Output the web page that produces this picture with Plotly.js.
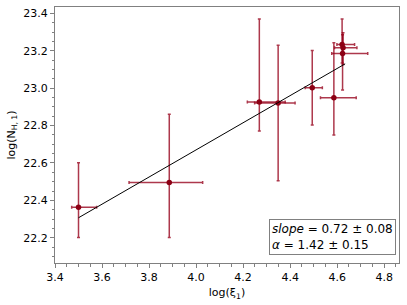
<!DOCTYPE html>
<html><head><meta charset="utf-8">
<script src="https://cdn.plot.ly/plotly-3.0.1.min.js"></script>
<style>html,body{margin:0;padding:0;background:#fff}#c{width:407px;height:305px}</style>
</head><body><div id="c"></div>
<script>
const logXi = [3.50, 3.886, 4.269, 4.349, 4.494, 4.586, 4.621, 4.625, 4.623];
const logNH = [22.363, 22.496, 22.926, 22.920, 23.002, 22.949, 23.234, 23.216, 23.186];
const xErrPlus  = [0.077, 0.142, 0.110, 0.072, 0.043, 0.095, 0.053, 0.059, 0.107];
const xErrMinus = [0.029, 0.171, 0.051, 0.100, 0.030, 0.057, 0.022, 0.036, 0.046];
const yErrPlus  = [0.238, 0.365, 0.444, 0.310, 0.200, 0.294, 0.136, 0.080, 0.100];
const yErrMinus = [0.161, 0.294, 0.155, 0.415, 0.199, 0.200, 0.100, 0.090, 0.196];
const fitX = [3.50, 4.634];
const fitY = [22.307, 23.130];
const xTicks = [3.4, 3.6, 3.8, 4.0, 4.2, 4.4, 4.6, 4.8];
const yTicks = [22.2, 22.4, 22.6, 22.8, 23.0, 23.2, 23.4];
const annText = '<i>slope</i> = 0.72 ± 0.08<br><i>α</i> = 1.42 ± 0.15';

const errCol = 'rgba(150,0,25,0.78)';
const traces = [
  {x: logXi, y: logNH, type: 'scatter', mode: 'markers',
   marker: {color: 'rgb(140,0,20)', size: 5.5},
   error_x: {type: 'data', symmetric: false, array: xErrPlus, arrayminus: xErrMinus, color: errCol, thickness: 1.5, width: 1.5},
   error_y: {type: 'data', symmetric: false, array: yErrPlus, arrayminus: yErrMinus, color: errCol, thickness: 1.5, width: 1.5},
   hoverinfo: 'none'},
  {x: fitX, y: fitY, type: 'scatter', mode: 'lines', line: {color: '#000', width: 1}}
];
const axisCommon = {
  showgrid: false, zeroline: false, showline: true, mirror: true, linecolor: '#808080', linewidth: 1,
  ticks: 'outside', ticklen: 4, tickcolor: '#808080', tickwidth: 1,
  tickfont: {family: 'DejaVu Sans', size: 11, color: '#000'},
  minor: {dtick: 0.05, ticks: 'outside', ticklen: 2.5, tickcolor: '#808080', showgrid: false}
};
const layout = {
  width: 407, height: 305, showlegend: false,
  paper_bgcolor: '#fff', plot_bgcolor: '#fff',
  margin: {l: 55, r: 8, t: 7, b: 42},
  xaxis: Object.assign({}, axisCommon, {range: [3.4, 4.863], tickvals: xTicks, ticktext: xTicks.map(v => v.toFixed(1)),
    title: {text: 'log(ξ<sub>1</sub>)', font: {family: 'DejaVu Sans', size: 11, color: '#000'}, standoff: 5}}),
  yaxis: Object.assign({}, axisCommon, {range: [22.065, 23.434], tickvals: yTicks, ticktext: yTicks.map(v => v.toFixed(1)),
    title: {text: 'log(N<sub>H, 1</sub>)', font: {family: 'DejaVu Sans', size: 11, color: '#000'}, standoff: 5}}),
  annotations: [{
    xref: 'paper', yref: 'paper', x: 0.992, y: 0.03, xanchor: 'right', yanchor: 'bottom',
    text: annText, showarrow: false, align: 'left',
    font: {family: 'DejaVu Sans', size: 12, color: '#000'},
    bordercolor: '#808080', borderwidth: 1, borderpad: 2, bgcolor: '#fff'
  }]
};
Plotly.newPlot('c', traces, layout, {displayModeBar: false, staticPlot: true});
</script></body></html>
